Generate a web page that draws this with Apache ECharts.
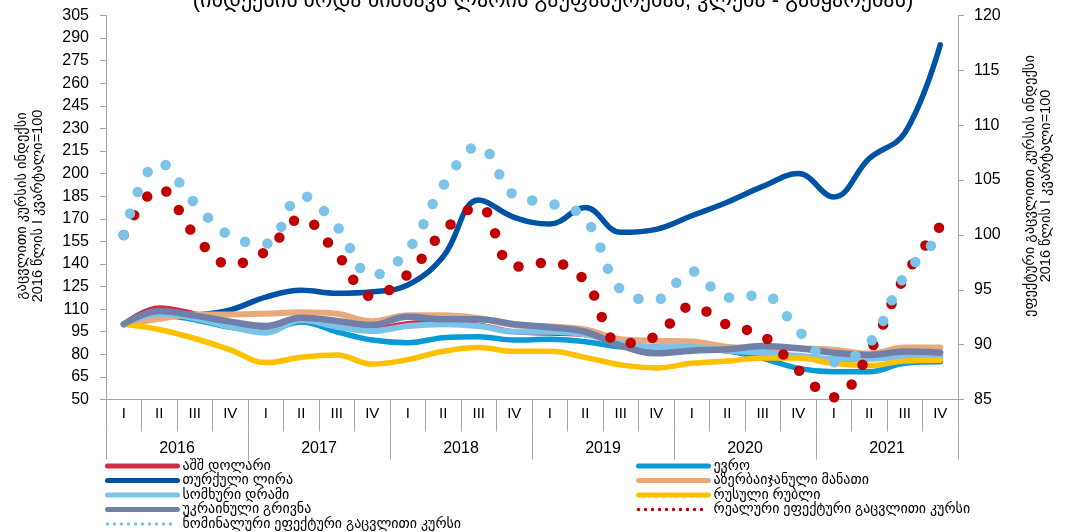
<!DOCTYPE html>
<html>
<head>
<meta charset="utf-8">
<script src="https://cdn.jsdelivr.net/npm/echarts@6/dist/echarts.min.js"></script>
<style>
  html, body { margin: 0; padding: 0; background: #fff; }
  #chart { width: 1065px; height: 532px; }
</style>
</head>
<body>
<div id="chart"></div>
<script>
var years = ['2016', '2017', '2018', '2019', '2020', '2021'];
var quarters = ['I', 'II', 'III', 'IV'];

// left axis (2016 I = 100)
var usd = [100, 111, 107, 101, 98, 104, 102, 97, 100.5, 101.5, 99.5, 95, 94, 93, 87, 85, 84.5, 82, 80, 78, 76.5, 77, 78, 78];
var eur = [100, 106, 103, 98, 96, 101.5, 95, 89.5, 87.7, 91, 91.7, 89.5, 90, 88.4, 85, 84, 85, 82.4, 77.4, 70.7, 68.5, 68.5, 74, 75];
var tryLira = [100, 105, 106, 109.5, 118, 122.5, 120.5, 121.5, 126, 145, 182.5, 171, 166.5, 177.5, 161, 163, 172, 181, 191.5, 200, 184.5, 210, 227, 285.5];
var azn = [100, 103.5, 106.5, 106.5, 107, 108, 107, 102, 106, 106, 104, 99.5, 98.5, 96.5, 90, 89, 88.5, 85, 84, 84, 83, 80.5, 84.5, 84.5];
var amd = [100, 107, 104, 98.3, 94.4, 102.8, 98.3, 95.5, 98.8, 100, 98.8, 95, 95, 93.3, 87.3, 84.7, 84.7, 82.4, 81, 79, 77, 77, 78.5, 78.5];
var rub = [100, 96.5, 90.5, 83, 74.5, 78, 79.5, 73.5, 76.5, 82, 84.5, 82, 82, 78, 73, 71, 74, 75.5, 77.5, 77.5, 74, 72.5, 75.5, 76];
var uah = [100, 108.8, 105.7, 101.7, 98.8, 104.3, 102.2, 99.5, 105, 103.3, 103.3, 100, 98, 95, 85.8, 80.7, 82.4, 83.3, 85.5, 84, 81.1, 79.6, 81.8, 81.1];

// right axis (effective rates)
var neer = [100, 106.6, 102.9, 99.9, 99.2, 103.6, 100.8, 96.3, 98.6, 104.5, 108.1, 103.6, 102.9, 101.5, 95, 94.1, 96.7, 94.3, 94.5, 91.3, 88.4, 90.1, 96.3, 99.8];
var reer = [100, 104.2, 100, 97.3, 98.5, 101.5, 98.3, 94.4, 96.4, 100.3, 102.6, 97.1, 97.5, 95.8, 90.1, 90.8, 93.5, 91.8, 90.8, 87.7, 85.2, 89.3, 96.2, 100.8];

var leftTicks = { min: 50, max: 305, step: 15 };
var rightTicks = { min: 85, max: 120, step: 5 };

var categories = [];
years.forEach(function (y) {
    quarters.forEach(function (q) { categories.push(y + '-' + q); });
});

var FONT = "'Liberation Sans', 'DejaVu Sans', sans-serif";
var GRID_COLOR = '#a6a6a6';

var names = {
    usd: 'აშშ დოლარი',
    eur: 'ევრო',
    tryLira: 'თურქული ლირა',
    azn: 'აზერბაიჯანული მანათი',
    amd: 'სომხური დრამი',
    rub: 'რუსული რუბლი',
    uah: 'უკრაინული გრივნა',
    reer: 'რეალური ეფექტური გაცვლითი კურსი',
    neer: 'ნომინალური ეფექტური გაცვლითი კურსი'
};

function solid(name, data, color, width) {
    return {
        name: name,
        type: 'line',
        data: data,
        smooth: 0.4,
        symbol: 'none',
        yAxisIndex: 0,
        lineStyle: { color: color, width: width, cap: 'round', join: 'round' },
        itemStyle: { color: color }
    };
}

function dotted(name, data, color) {
    return {
        name: name,
        type: 'line',
        data: data,
        smooth: 0.4,
        symbol: 'none',
        yAxisIndex: 1,
        lineStyle: { color: color, width: 10.5, type: [0, 22.5], cap: 'round' },
        itemStyle: { color: color }
    };
}

var legendText = { fontFamily: FONT, fontSize: 14, color: '#000', lineHeight: 14 };
var solidLegendLine = { width: 5, cap: 'round' };
var dotLegendLine = { width: 3.5, type: [0, 7], cap: 'round' };

function legendColumn(left, items) {
    return {
        orient: 'vertical',
        left: left,
        top: 459,
        height: 90,
        padding: 0,
        itemWidth: 70,
        itemHeight: 6,
        itemGap: 0.5,
        itemStyle: { opacity: 0 },
        textStyle: legendText,
        data: items
    };
}

var chart = echarts.init(document.getElementById('chart'));

var option = {
    animation: false,
    backgroundColor: '#fff',
    title: {
        text: '(ინდექსის ზრდა ნიშნავს ლარის გაუფასურებას, კლება - გამყარებას)',
        left: 548,
        textAlign: 'center',
        top: -15,
        textStyle: { fontFamily: FONT, fontSize: 22, fontWeight: 'normal', color: '#000' }
    },
    legend: [
        legendColumn(105, [
            { name: names.usd, lineStyle: solidLegendLine },
            { name: names.tryLira, lineStyle: solidLegendLine },
            { name: names.amd, lineStyle: solidLegendLine },
            { name: names.uah, lineStyle: solidLegendLine },
            { name: names.neer, lineStyle: dotLegendLine }
        ]),
        legendColumn(636, [
            { name: names.eur, lineStyle: solidLegendLine },
            { name: names.azn, lineStyle: solidLegendLine },
            { name: names.rub, lineStyle: solidLegendLine },
            { name: names.reer, lineStyle: dotLegendLine }
        ])
    ],
    grid: { left: 106, right: 107, top: 15.5, bottom: 132.5, containLabel: false },
    xAxis: [{
        type: 'category',
        data: categories,
        boundaryGap: true,
        axisLine: { lineStyle: { color: GRID_COLOR, width: 1 } },
        axisTick: { show: true, interval: 0, length: 32, lineStyle: { color: GRID_COLOR } },
        axisLabel: {
            interval: 0,
            margin: 7,
            color: '#000',
            fontFamily: FONT,
            fontSize: 15,
            formatter: function (v) { return v.split('-')[1]; }
        },
        splitLine: { show: false }
    }, {
        type: 'category',
        data: years,
        position: 'bottom',
        offset: 32,
        boundaryGap: true,
        axisLine: { show: false },
        axisTick: { show: true, interval: 0, length: 28, lineStyle: { color: GRID_COLOR } },
        axisLabel: { interval: 0, margin: 9, color: '#000', fontFamily: FONT, fontSize: 16 },
        splitLine: { show: false }
    }],
    yAxis: [{
        type: 'value',
        position: 'left',
        min: leftTicks.min,
        max: leftTicks.max,
        interval: leftTicks.step,
        axisLine: { show: true, lineStyle: { color: GRID_COLOR } },
        axisTick: { show: true, length: 6, lineStyle: { color: GRID_COLOR } },
        axisLabel: { margin: 17, color: '#000', fontFamily: FONT, fontSize: 16 },
        splitLine: { show: false }
    }, {
        type: 'value',
        position: 'right',
        min: rightTicks.min,
        max: rightTicks.max,
        interval: rightTicks.step,
        axisLine: { show: true, lineStyle: { color: GRID_COLOR } },
        axisTick: { show: true, length: 6, lineStyle: { color: GRID_COLOR } },
        axisLabel: { margin: 16, color: '#000', fontFamily: FONT, fontSize: 16 },
        splitLine: { show: false }
    }],
    graphic: [{
        type: 'text',
        x: 30,
        y: 206,
        rotation: Math.PI / 2,
        style: {
            text: 'გაცვლითი კურსის ინდექსი\n2016 წლის I კვარტალი=100',
            fill: '#000',
            font: '14.5px ' + FONT,
            lineHeight: 16,
            align: 'center',
            verticalAlign: 'middle'
        }
    }, {
        type: 'text',
        x: 1038,
        y: 186,
        rotation: Math.PI / 2,
        style: {
            text: 'ეფექტური გაცვლითი კურსის ინდექსი\n2016 წლის I კვარტალი=100',
            fill: '#000',
            font: '14.5px ' + FONT,
            lineHeight: 16,
            align: 'center',
            verticalAlign: 'middle'
        }
    }],
    series: [
        solid(names.usd, usd, '#d62a4a', 5),
        solid(names.eur, eur, '#0a9ad6', 5.5),
        solid(names.tryLira, tryLira, '#0052a5', 5.5),
        solid(names.azn, azn, '#e8aa7c', 6),
        solid(names.amd, amd, '#7cc3ea', 6),
        solid(names.rub, rub, '#ffc000', 5.5),
        solid(names.uah, uah, '#7080a8', 6.5),
        dotted(names.reer, reer, '#c00000'),
        dotted(names.neer, neer, '#7cc3ea')
    ]
};

chart.setOption(option);
</script>
</body>
</html>
